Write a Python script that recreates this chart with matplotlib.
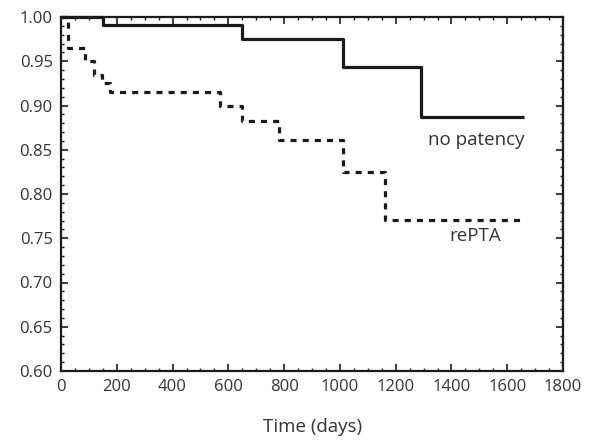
import matplotlib
matplotlib.use("Agg")
import matplotlib.pyplot as plt
from matplotlib.ticker import MultipleLocator, FormatStrFormatter

plt.rcParams['font.family'] = ['Open Sans', 'DejaVu Sans']

no_patency_time = [0, 150, 650, 1010, 1290, 1660]
no_patency_surv = [1.0, 0.991, 0.975, 0.944, 0.887, 0.887]

repta_time = [0, 24, 86, 118, 148, 176, 570, 650, 780, 1010, 1160, 1660]
repta_surv = [1.0, 0.965, 0.950, 0.935, 0.925, 0.915, 0.899, 0.882, 0.861, 0.825, 0.771, 0.771]

x_ticks = [0, 200, 400, 600, 800, 1000, 1200, 1400, 1600, 1800]
y_ticks = [0.60, 0.65, 0.70, 0.75, 0.80, 0.85, 0.90, 0.95, 1.00]

fig = plt.figure(figsize=(5.94, 4.42), dpi=100)
ax = fig.add_axes([61/594, 1 - 371/442, (563-61)/594, (371-17)/442])

ax.plot(no_patency_time, no_patency_surv, drawstyle='steps-post', color='#1a1a1a',
        lw=2.3, solid_capstyle='butt', clip_on=False, zorder=3)
ax.plot(repta_time, repta_surv, drawstyle='steps-post', color='#1a1a1a',
        lw=2.3, dashes=(1.9, 1.9), dash_capstyle='butt', clip_on=False, zorder=3)

ax.set_xlim(0, 1800)
ax.set_ylim(0.60, 1.00)
ax.set_xticks(x_ticks)
ax.set_yticks(y_ticks)
ax.yaxis.set_major_formatter(FormatStrFormatter('%.2f'))
ax.xaxis.set_minor_locator(MultipleLocator(50))
ax.yaxis.set_minor_locator(MultipleLocator(0.01))
ax.tick_params(which='both', direction='in', top=True, right=True, color='#1a1a1a')
ax.tick_params(which='major', length=5, width=1.2, labelsize=12, pad=6, labelcolor='#333333')
ax.tick_params(which='minor', length=2.5, width=1.0)
for s in ax.spines.values():
    s.set_linewidth(1.6)
    s.set_color('#1a1a1a')

ax.text(1662, 0.861, 'no patency', ha='right', va='center', fontsize=13.5, color='#333333')
ax.text(1485, 0.752, 'rePTA', ha='center', va='center', fontsize=13.5, color='#333333')
fig.text(313/594, 1 - 427/442, 'Time (days)', ha='center', va='center', fontsize=13.5, color='#333333')

fig.savefig('out.png', dpi=100)
